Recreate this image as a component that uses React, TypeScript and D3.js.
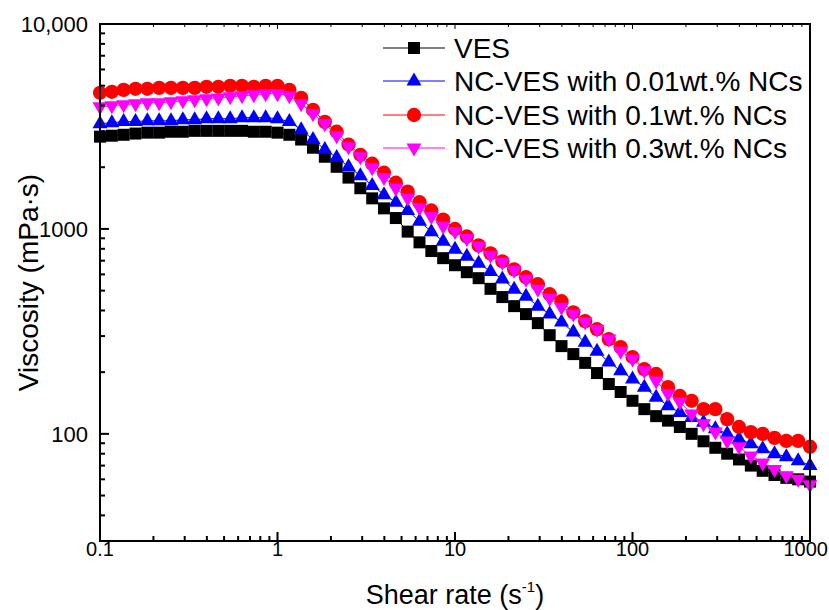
import React from 'react';
import * as d3 from 'd3';

// Shear rate (s^-1), log-spaced sweep
const shearRate = [
  0.1, 0.1166, 0.1359, 0.1585, 0.1848, 0.2154, 0.2512, 0.2929, 0.3415, 0.3981, 0.4642, 0.5412, 0.631, 0.7356, 0.8577,
  1, 1.166, 1.359, 1.585, 1.848, 2.154, 2.512, 2.929, 3.415, 3.981, 4.642, 5.412, 6.31, 7.356, 8.577,
  10, 11.66, 13.59, 15.85, 18.48, 21.54, 25.12, 29.29, 34.15, 39.81, 46.42, 54.12, 63.1, 73.56, 85.77,
  100, 116.6, 135.9, 158.5, 184.8, 215.4, 251.2, 292.9, 341.5, 398.1, 464.2, 541.2, 631, 735.6, 857.7,
  1000,
];

const vesValues = [
  2820, 2850, 2880, 2920, 2950, 2950, 2980, 2980, 3010, 3010, 3010, 3010, 3010, 2980, 2980,
  2950, 2880, 2730, 2490, 2250, 2010, 1780, 1580, 1410, 1260, 1130, 970, 860, 780, 720,
  665, 615, 575, 510, 465, 420, 384, 347, 303, 268, 245, 222, 198, 175, 160,
  145, 132, 122, 116, 108, 100, 92, 85.5, 80, 75, 70, 66, 63, 61, 60,
  58.5,
];

const nc001Values = [
  3260, 3300, 3340, 3340, 3370, 3370, 3370, 3410, 3410, 3450, 3450, 3450, 3490, 3490, 3490,
  3450, 3340, 3050, 2730, 2440, 2230, 2010, 1820, 1630, 1470, 1350, 1230, 1090, 970, 870,
  795, 735, 680, 620, 570, 508, 469, 420, 384, 351, 314, 280, 253, 224, 203,
  185, 169, 151, 137, 127, 120, 114, 106, 100, 94.6, 89.4, 84.5, 80, 77.3, 74,
  70,
];

const nc01Values = [
  4615, 4670, 4770, 4830, 4830, 4880, 4880, 4880, 4880, 4940, 4940, 4990, 4990, 4940, 4990,
  4990, 4770, 4360, 3810, 3330, 2980, 2580, 2300, 2080, 1880, 1680, 1520, 1350, 1230, 1110,
  1000, 919, 831, 760, 695, 635, 581, 537, 480, 444, 392, 355, 324, 290, 265,
  237, 207, 196, 169, 153, 145, 132, 132, 118, 108, 102, 100, 95.6, 92.4, 92.4,
  86.5,
];

const nc03Values = [
  3950, 3990, 4040, 4080, 4130, 4130, 4170, 4220, 4270, 4320, 4360, 4410, 4460, 4510, 4570,
  4570, 4460, 4080, 3650, 3260, 2850, 2520, 2250, 1990, 1780, 1580, 1410, 1270, 1150, 1030,
  972, 899, 822, 743, 687, 628, 568, 508, 459, 415, 384, 351, 324, 290, 253,
  232, 203, 181, 157, 143, 125, 112, 102, 92.4, 86.5, 78, 72, 67, 62.5, 60,
  56.5,
];

const seriesNames = [
  'VES',
  'NC-VES with 0.01wt.% NCs',
  'NC-VES with 0.1wt.% NCs',
  'NC-VES with 0.3wt.% NCs',
];
const seriesColors = ['#000000', '#0000ff', '#ff0000', '#ff00ff'];
const seriesShapes = ['square', 'triUp', 'circle', 'triDown'];
const seriesValues = [vesValues, nc001Values, nc01Values, nc03Values];

const xMajorTicks = [0.1, 1, 10, 100, 1000];
const xTickLabels = ['0.1', '1', '10', '100', '1000'];
const yMajorTicks = [100, 1000, 10000];
const yTickLabels = ['100', '1000', '10,000'];

const W = 829;
const H = 610;
const M = { left: 100, right: 810, top: 24, bottom: 541 };
const FONT = 'Arial, "Liberation Sans", Helvetica, sans-serif';

function markerPath(shape: string): string {
  switch (shape) {
    case 'square':
      return 'M-6,-6H6V6H-6Z';
    case 'triUp':
      return 'M0,-8.5L7.5,4.5L-7.5,4.5Z';
    case 'triDown':
      return 'M0,8.5L7.5,-4.5L-7.5,-4.5Z';
    default:
      return d3.symbol(d3.symbolCircle, 160)() as string;
  }
}

export default function App() {
  const x = d3.scaleLog().domain([0.1, 1000]).range([M.left, M.right]);
  const y = d3.scaleLog().domain([30, 10000]).range([M.bottom, M.top]);

  const xMinor: number[] = [];
  [0.1, 1, 10, 100].forEach((d) => {
    for (let k = 2; k <= 9; k++) xMinor.push(d * k);
  });
  const yMinor: number[] = [];
  [10, 100, 1000].forEach((d) => {
    for (let k = 2; k <= 9; k++) {
      const v = d * k;
      if (v > 30 && v < 10000) yMinor.push(v);
    }
  });

  const line = d3
    .line<[number, number]>()
    .x((d) => x(d[0]))
    .y((d) => y(d[1]));

  const legendRows = [48, 81, 115, 148];

  return (
    <svg width={W} height={H} style={{ position: 'absolute', left: 0, top: 0, background: '#fff' }}>
      <rect x={0} y={0} width={W} height={H} fill="#fff" />
      {/* series */}
      {seriesValues.map((vals, si) => {
        const pts = shearRate.map((s, i) => [s, vals[i]] as [number, number]);
        const p = markerPath(seriesShapes[si]);
        return (
          <g key={si}>
            <path d={line(pts) as string} fill="none" stroke={seriesColors[si]} strokeWidth={1} />
            {pts.map((d, i) => (
              <path key={i} d={p} transform={`translate(${x(d[0])},${y(d[1])})`} fill={seriesColors[si]} />
            ))}
          </g>
        );
      })}

      {/* frame */}
      <rect x={M.left} y={M.top} width={M.right - M.left} height={M.bottom - M.top} fill="none" stroke="#000" strokeWidth={2} />

      {/* x ticks */}
      {xMajorTicks.map((t, i) => (
        <g key={'xM' + i}>
          <line x1={x(t)} x2={x(t)} y1={M.bottom} y2={M.bottom - 9} stroke="#000" strokeWidth={2} />
          <line x1={x(t)} x2={x(t)} y1={M.top} y2={M.top + 5} stroke="#000" strokeWidth={1} />
          <text
            x={i === xMajorTicks.length - 1 ? W - 1 : x(t)}
            y={556}
            textAnchor={i === xMajorTicks.length - 1 ? 'end' : 'middle'}
            fontFamily={FONT}
            fontSize={20}
            fill="#000"
          >
            {xTickLabels[i]}
          </text>
        </g>
      ))}
      {xMinor.map((t, i) => (
        <g key={'xm' + i}>
          <line x1={x(t)} x2={x(t)} y1={M.bottom} y2={M.bottom - 5} stroke="#000" strokeWidth={2} />
          <line x1={x(t)} x2={x(t)} y1={M.top} y2={M.top + 3} stroke="#000" strokeWidth={1} />
        </g>
      ))}

      {/* y ticks */}
      {yMajorTicks.map((t, i) => (
        <g key={'yM' + i}>
          <line x1={M.left} x2={M.left + 9} y1={y(t)} y2={y(t)} stroke="#000" strokeWidth={2} />
          <text x={88} y={y(t) + 8} textAnchor="end" fontFamily={FONT} fontSize={22} fill="#000">
            {yTickLabels[i]}
          </text>
        </g>
      ))}
      {yMinor.map((t, i) => (
        <line key={'ym' + i} x1={M.left} x2={M.left + 5} y1={y(t)} y2={y(t)} stroke="#000" strokeWidth={2} />
      ))}

      {/* axis titles */}
      <text x={455} y={604} textAnchor="middle" fontFamily={FONT} fontSize={27} fill="#000">
        Shear rate (s
        <tspan fontSize={15} dy={-12}>-1</tspan>
        <tspan dy={12}>)</tspan>
      </text>
      <text
        transform={`translate(38,${(M.top + M.bottom) / 2}) rotate(-90)`}
        textAnchor="middle"
        fontFamily={FONT}
        fontSize={28}
        fill="#000"
      >
        Viscosity (mPa·s)
      </text>

      {/* legend */}
      {seriesNames.map((name, si) => (
        <g key={'lg' + si} transform={`translate(0,${legendRows[si]})`}>
          <line x1={383} x2={445} y1={0} y2={0} stroke={seriesColors[si]} strokeWidth={1} />
          <path d={markerPath(seriesShapes[si])} transform="translate(414,0)" fill={seriesColors[si]} />
          <text x={454} y={0} dy="0.36em" fontFamily={FONT} fontSize={28} fill="#000">
            {name}
          </text>
        </g>
      ))}
    </svg>
  );
}
